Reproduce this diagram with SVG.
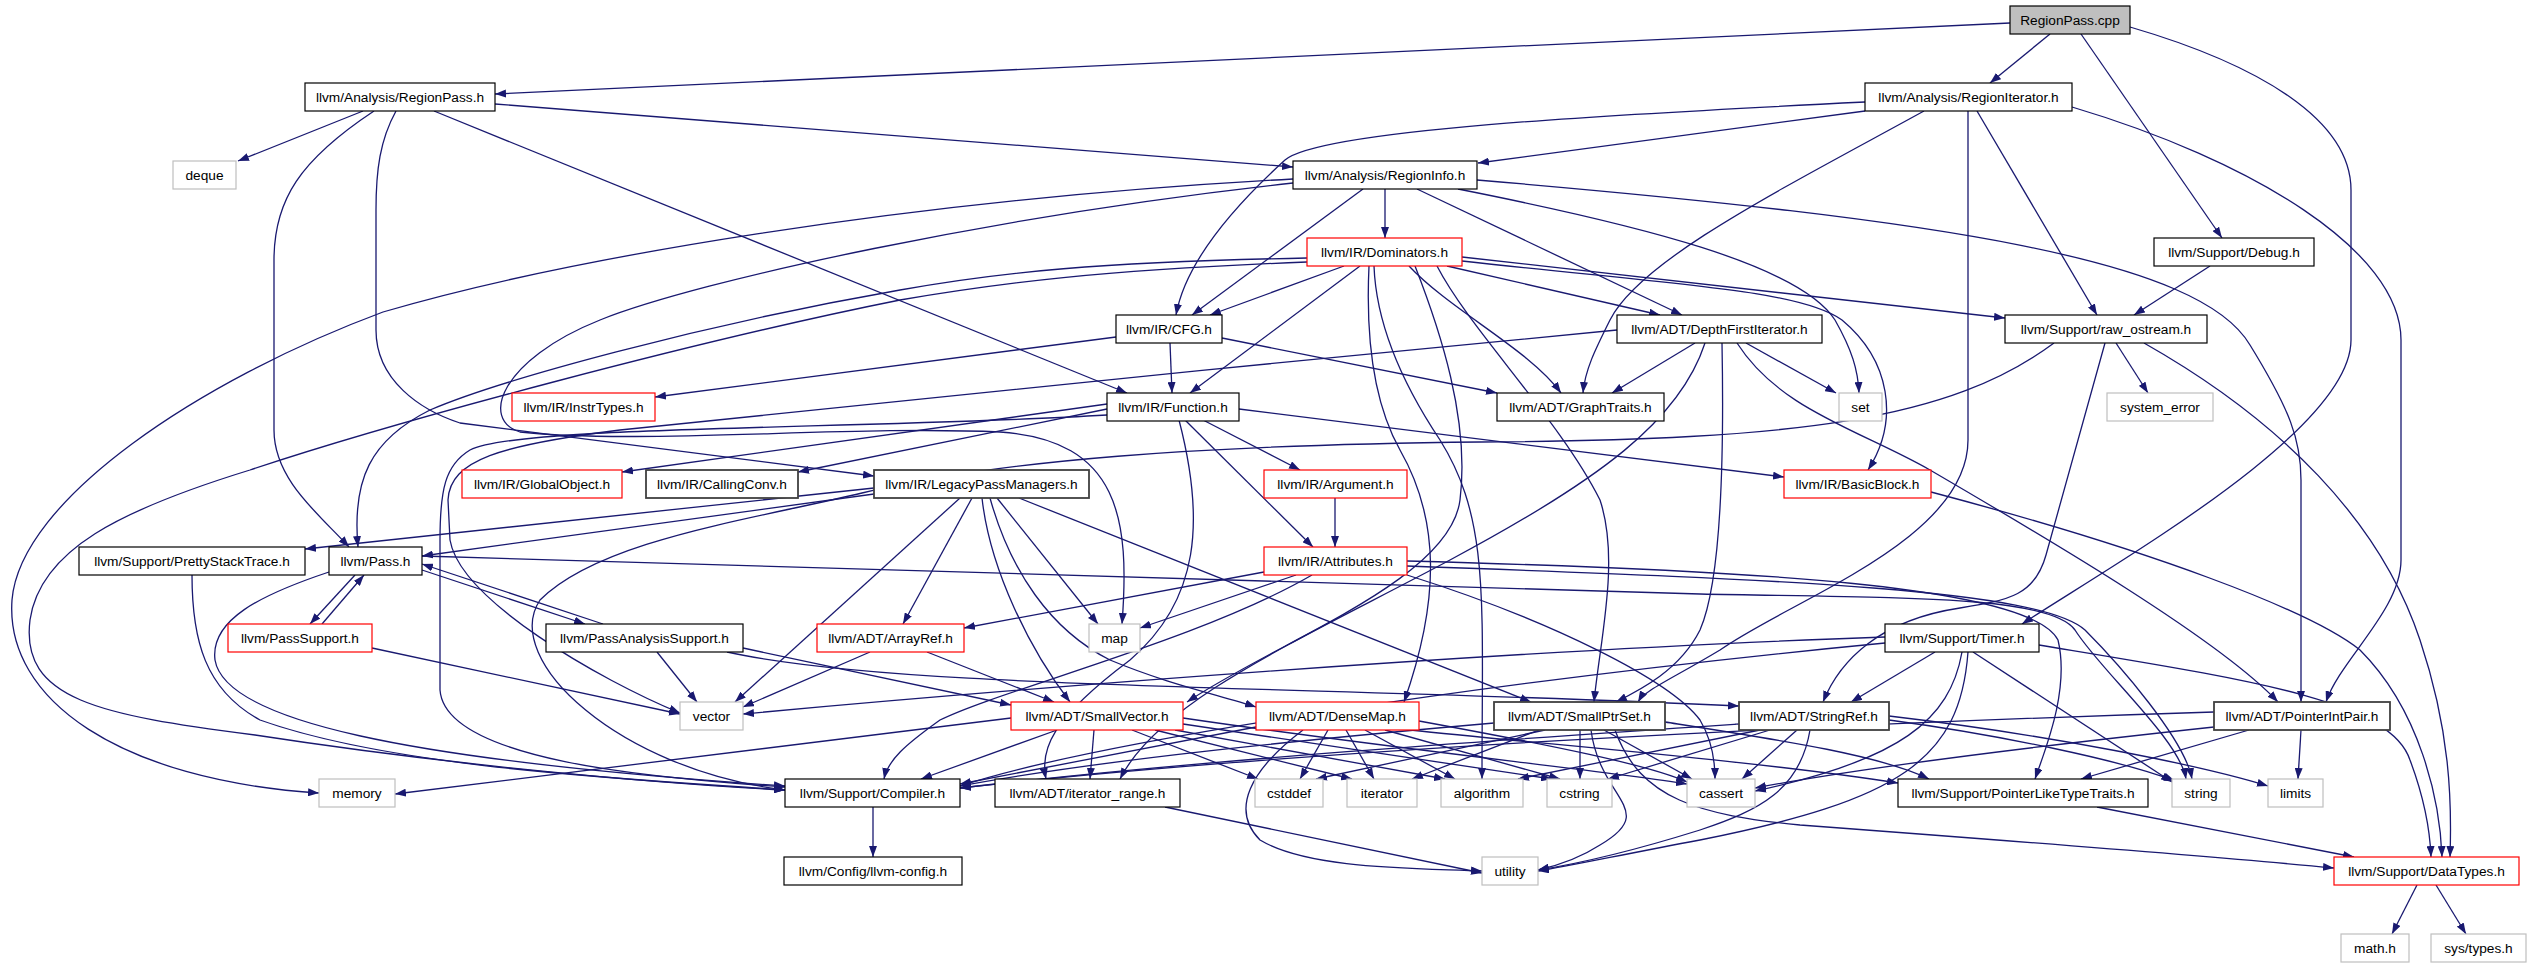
<svg xmlns="http://www.w3.org/2000/svg" width="2534" height="968" viewBox="0 0 2534 968">
<defs>
<style>
.e{fill:none;stroke:#191970;stroke-width:1.3;marker-end:url(#a)}
.n rect{fill:#fff;stroke:#000;stroke-width:1.2}
.g rect{fill:#fff;stroke:#bfbfbf;stroke-width:1.2}
.r rect{fill:#fff;stroke:#ff0000;stroke-width:1.2}
.d rect{fill:#fff;stroke:#404040;stroke-width:1.8}
text{font-family:"Liberation Sans",Arial,sans-serif;font-size:13.7px;fill:#000;text-anchor:middle}
</style>
<marker id="a" markerWidth="11" markerHeight="8" refX="11" refY="4" orient="auto" markerUnits="userSpaceOnUse"><path d="M0,0 L11,4 L0,8 z" fill="#191970"/></marker>
</defs>
<rect width="2534" height="968" fill="#fff"/>
<g id="edges">
<path class="e" d="M2010,23 L495,94"/>
<path class="e" d="M2050,34 L1990,83"/>
<path class="e" d="M2081,34 L2222,238"/>
<path class="e" d="M2130,27 C2260,65 2351,120 2351,190 L2351,340 C2351,430 2120,560 2022,624"/>
<path class="e" d="M363,111 L238,161"/>
<path class="e" d="M374,111 C300,160 274,200 274,260 L274,430 C274,480 320,515 349,547"/>
<path class="e" d="M396,111 C380,140 376,170 376,210 L376,330 C376,380 420,410 460,423 L874,476"/>
<path class="e" d="M434,111 L1127,393"/>
<path class="e" d="M495,104 L1293,167"/>
<path class="e" d="M1865,111 L1478,163"/>
<path class="e" d="M1865,102 C1600,115 1320,130 1285,160 C1230,210 1185,265 1176,315"/>
<path class="e" d="M1924,111 C1780,190 1640,260 1610,320 C1595,350 1585,370 1583,393"/>
<path class="e" d="M1968,111 L1968,440 C1968,540 1790,600 1720,650 C1670,680 1645,690 1638,702"/>
<path class="e" d="M1977,111 L2097,315"/>
<path class="e" d="M2072,107 C2250,160 2401,250 2401,340 L2401,560 C2401,610 2340,660 2326,702"/>
<path class="e" d="M1293,179 C900,200 560,260 383,312 C200,380 20,500 12,600 C5,700 120,780 319,793"/>
<path class="e" d="M1293,183 C1000,215 700,280 600,320 C500,360 480,420 520,432 C640,445 850,425 1000,432 C1120,440 1130,520 1122,624"/>
<path class="e" d="M1363,189 L1192,315"/>
<path class="e" d="M1385,189 L1385,238"/>
<path class="e" d="M1417,189 L1682,315"/>
<path class="e" d="M1458,189 C1640,225 1800,265 1835,320 C1852,350 1858,370 1859,393"/>
<path class="e" d="M1477,180 C1950,220 2200,260 2250,345 C2290,410 2301,440 2301,480 L2301,702"/>
<path class="e" d="M1344,266 L1210,315"/>
<path class="e" d="M1360,266 L1190,393"/>
<path class="e" d="M1307,258 C1100,262 1000,272 900,290 C700,325 500,380 430,410 C370,440 352,480 358,547"/>
<path class="e" d="M1307,262 C1100,270 1000,283 900,300 C700,340 400,420 250,470 C120,510 40,550 30,620 C20,700 100,715 255,735 C450,765 650,783 785,790"/>
<path class="e" d="M1447,266 L1660,315"/>
<path class="e" d="M1409,266 C1450,310 1530,350 1561,393"/>
<path class="e" d="M1462,257 L2005,318"/>
<path class="e" d="M1462,261 C1680,285 1800,290 1842,320 C1890,360 1900,420 1868,470"/>
<path class="e" d="M1415,266 C1440,330 1470,420 1460,500 C1450,580 1280,640 1187,702"/>
<path class="e" d="M1369,266 C1366,330 1372,400 1400,450 C1440,520 1440,600 1404,702"/>
<path class="e" d="M1374,266 C1376,320 1400,380 1440,440 C1490,520 1482,600 1482,779"/>
<path class="e" d="M1437,266 C1470,330 1560,420 1600,500 C1620,560 1600,640 1594,702"/>
<path class="e" d="M1116,337 L655,397"/>
<path class="e" d="M1170,343 L1172,393"/>
<path class="e" d="M1222,338 L1497,393"/>
<path class="e" d="M1695,343 L1612,393"/>
<path class="e" d="M1746,343 L1836,393"/>
<path class="e" d="M1737,343 C1780,410 1860,430 1930,470 C2050,540 2220,640 2278,702"/>
<path class="e" d="M1722,343 C1724,450 1722,580 1700,630 C1680,670 1640,690 1616,702"/>
<path class="e" d="M1705,343 C1680,420 1600,480 1450,560 C1300,640 1160,700 1120,779"/>
<path class="e" d="M1617,330 C1300,360 900,400 620,430 C500,445 450,460 448,500 L450,540 C460,600 600,680 680,713"/>
<path class="e" d="M2116,343 L2148,393"/>
<path class="e" d="M2105,343 L2046,555 C2035,595 2010,600 1960,608 C1880,620 1840,660 1823,702"/>
<path class="e" d="M2054,343 C1950,420 1800,440 1480,442 C1200,445 1000,460 862,493 C750,520 600,540 540,600 C500,660 620,770 785,790"/>
<path class="e" d="M2144,343 C2280,420 2380,520 2420,640 C2450,730 2452,800 2450,857"/>
<path class="e" d="M2210,266 L2134,315"/>
<path class="e" d="M1107,404 L622,472"/>
<path class="e" d="M1107,409 L798,472"/>
<path class="e" d="M1107,415 C850,430 520,425 470,450 C445,465 440,490 440,540 L440,690 C445,760 650,778 785,787"/>
<path class="e" d="M1203,420 L1300,470"/>
<path class="e" d="M1185,420 L1313,547"/>
<path class="e" d="M1179,420 C1205,520 1200,600 1130,660 C1050,720 1040,750 1046,779"/>
<path class="e" d="M1239,409 L1784,477"/>
<path class="e" d="M874,488 L305,549"/>
<path class="e" d="M874,494 L422,556"/>
<path class="e" d="M960,498 L735,702"/>
<path class="e" d="M972,498 L903,624"/>
<path class="e" d="M982,498 C990,570 1030,650 1070,702"/>
<path class="e" d="M990,498 C1010,570 1050,630 1110,660 C1170,685 1220,695 1256,707"/>
<path class="e" d="M997,498 L1098,624"/>
<path class="e" d="M1019,498 L1531,702"/>
<path class="e" d="M329,572 C260,595 210,620 215,660 C225,720 400,760 785,786"/>
<path class="e" d="M422,556 L1700,594 C1900,598 2050,595 2075,630 C2100,670 2180,740 2186,779"/>
<path class="e" d="M355,575 L310,624"/>
<path class="e" d="M322,624 L364,575"/>
<path class="e" d="M422,570 L585,624"/>
<path class="e" d="M603,624 L422,564"/>
<path class="e" d="M372,648 L680,714"/>
<path class="e" d="M657,652 L697,702"/>
<path class="e" d="M743,648 L1011,705"/>
<path class="e" d="M727,652 C900,690 1300,685 1739,706"/>
<path class="e" d="M192,575 C192,640 205,690 260,720 C400,770 650,780 785,790"/>
<path class="e" d="M1335,498 L1335,547"/>
<path class="e" d="M1264,572 L964,628"/>
<path class="e" d="M1296,575 L1140,628"/>
<path class="e" d="M1312,575 C1200,640 1000,690 940,720 C905,745 888,760 884,779"/>
<path class="e" d="M1407,575 C1550,620 1670,680 1700,720 C1712,740 1715,760 1715,779"/>
<path class="e" d="M1407,561 C1750,570 2030,585 2058,640 C2070,690 2045,750 2035,779"/>
<path class="e" d="M1407,566 C1800,580 2040,590 2085,630 C2120,665 2185,740 2192,779"/>
<path class="e" d="M870,652 L743,707"/>
<path class="e" d="M927,652 L1054,702"/>
<path class="e" d="M1011,718 L395,794"/>
<path class="e" d="M1057,730 L921,779"/>
<path class="e" d="M1094,730 L1090,779"/>
<path class="e" d="M1132,730 L1258,779"/>
<path class="e" d="M1155,730 L1352,779"/>
<path class="e" d="M1175,730 L1445,779"/>
<path class="e" d="M1183,724 L1552,779"/>
<path class="e" d="M1183,718 C1400,750 1600,770 1687,784"/>
<path class="e" d="M1256,727 L960,784"/>
<path class="e" d="M1303,730 C1250,770 1230,810 1260,840 C1310,870 1420,868 1482,871"/>
<path class="e" d="M1328,730 L1300,779"/>
<path class="e" d="M1346,730 L1374,779"/>
<path class="e" d="M1365,730 L1455,779"/>
<path class="e" d="M1385,730 L1560,779"/>
<path class="e" d="M1419,721 C1550,745 1650,765 1687,782"/>
<path class="e" d="M1410,730 C1550,745 1750,760 1898,783"/>
<path class="e" d="M1494,723 C1300,740 1100,760 960,786"/>
<path class="e" d="M1545,730 L1316,779"/>
<path class="e" d="M1539,730 L1412,779"/>
<path class="e" d="M1580,730 L1580,779"/>
<path class="e" d="M1604,730 L1692,779"/>
<path class="e" d="M1591,730 C1600,800 1660,810 1600,845 C1580,858 1560,865 1538,870"/>
<path class="e" d="M1615,730 C1640,800 1700,815 1800,825 C2000,840 2200,855 2334,868"/>
<path class="e" d="M1665,722 C1780,740 1880,755 1929,779"/>
<path class="e" d="M1739,724 C1500,740 1200,760 960,788"/>
<path class="e" d="M1760,730 L1518,779"/>
<path class="e" d="M1770,730 L1608,779"/>
<path class="e" d="M1797,730 L1742,779"/>
<path class="e" d="M1810,730 C1800,790 1760,810 1700,830 C1620,855 1570,865 1538,870"/>
<path class="e" d="M1889,720 C2000,735 2120,760 2175,781"/>
<path class="e" d="M1889,716 C2050,735 2200,765 2268,786"/>
<path class="e" d="M2214,712 C1800,725 1300,750 960,788"/>
<path class="e" d="M2214,727 C2000,750 1850,770 1755,788"/>
<path class="e" d="M2249,730 L2081,779"/>
<path class="e" d="M2301,730 L2298,779"/>
<path class="e" d="M2097,807 L2354,857"/>
<path class="e" d="M1935,652 L1851,702"/>
<path class="e" d="M1885,637 C1500,650 1000,690 743,714"/>
<path class="e" d="M1885,643 C1500,680 1100,740 960,786"/>
<path class="e" d="M1962,652 C1950,720 1900,760 1755,791"/>
<path class="e" d="M1968,652 C1960,760 1900,800 1700,840 C1620,855 1570,866 1538,871"/>
<path class="e" d="M1973,652 L2172,782"/>
<path class="e" d="M2039,645 C2250,680 2390,700 2410,760 C2425,800 2430,830 2431,857"/>
<path class="e" d="M1931,492 C2150,550 2310,610 2360,650 C2420,710 2440,800 2442,857"/>
<path class="e" d="M2417,885 L2392,934"/>
<path class="e" d="M2436,885 L2466,934"/>
<path class="e" d="M873,807 L873,857"/>
<path class="e" d="M1165,807 L1482,873"/>
</g>
<g id="cpp" class="n"><rect x="2010" y="6" width="120" height="28" style="fill:#bfbfbf"/><text x="2070" y="25">RegionPass.cpp</text></g>
<g id="rp" class="n"><rect x="305" y="83" width="190" height="28"/><text x="400" y="102">llvm/Analysis/RegionPass.h</text></g>
<g id="ri" class="n"><rect x="1865" y="83" width="207" height="28"/><text x="1968.5" y="102">llvm/Analysis/RegionIterator.h</text></g>
<g id="deque" class="g"><rect x="173" y="161" width="63" height="28"/><text x="204.5" y="180">deque</text></g>
<g id="rinfo" class="n"><rect x="1293" y="161" width="184" height="28"/><text x="1385" y="180">llvm/Analysis/RegionInfo.h</text></g>
<g id="dom" class="r"><rect x="1307" y="238" width="155" height="28"/><text x="1384.5" y="257">llvm/IR/Dominators.h</text></g>
<g id="debug" class="n"><rect x="2154" y="238" width="160" height="28"/><text x="2234" y="257">llvm/Support/Debug.h</text></g>
<g id="cfg" class="n"><rect x="1116" y="315" width="106" height="28"/><text x="1169" y="334">llvm/IR/CFG.h</text></g>
<g id="dfi" class="n"><rect x="1617" y="315" width="205" height="28"/><text x="1719.5" y="334">llvm/ADT/DepthFirstIterator.h</text></g>
<g id="raw" class="n"><rect x="2005" y="315" width="202" height="28"/><text x="2106" y="334">llvm/Support/raw_ostream.h</text></g>
<g id="instr" class="r"><rect x="512" y="393" width="143" height="28"/><text x="583.5" y="412">llvm/IR/InstrTypes.h</text></g>
<g id="func" class="n"><rect x="1107" y="393" width="132" height="28"/><text x="1173" y="412">llvm/IR/Function.h</text></g>
<g id="gt" class="n"><rect x="1497" y="393" width="167" height="28"/><text x="1580.5" y="412">llvm/ADT/GraphTraits.h</text></g>
<g id="set" class="g"><rect x="1839" y="393" width="43" height="28"/><text x="1860.5" y="412">set</text></g>
<g id="syserr" class="g"><rect x="2107" y="393" width="106" height="28"/><text x="2160" y="412">system_error</text></g>
<g id="gobj" class="r"><rect x="462" y="470" width="160" height="28"/><text x="542" y="489">llvm/IR/GlobalObject.h</text></g>
<g id="cc" class="d"><rect x="646" y="470" width="152" height="28"/><text x="722" y="489">llvm/IR/CallingConv.h</text></g>
<g id="lpm" class="d"><rect x="874" y="470" width="215" height="28"/><text x="981.5" y="489">llvm/IR/LegacyPassManagers.h</text></g>
<g id="arg" class="r"><rect x="1264" y="470" width="143" height="28"/><text x="1335.5" y="489">llvm/IR/Argument.h</text></g>
<g id="bb" class="r"><rect x="1784" y="470" width="147" height="28"/><text x="1857.5" y="489">llvm/IR/BasicBlock.h</text></g>
<g id="pst" class="n"><rect x="79" y="547" width="226" height="28"/><text x="192" y="566">llvm/Support/PrettyStackTrace.h</text></g>
<g id="pass" class="n"><rect x="329" y="547" width="93" height="28"/><text x="375.5" y="566">llvm/Pass.h</text></g>
<g id="attr" class="r"><rect x="1264" y="547" width="143" height="28"/><text x="1335.5" y="566">llvm/IR/Attributes.h</text></g>
<g id="ps" class="r"><rect x="228" y="624" width="144" height="28"/><text x="300" y="643">llvm/PassSupport.h</text></g>
<g id="pas" class="n"><rect x="546" y="624" width="197" height="28"/><text x="644.5" y="643">llvm/PassAnalysisSupport.h</text></g>
<g id="aref" class="r"><rect x="817" y="624" width="147" height="28"/><text x="890.5" y="643">llvm/ADT/ArrayRef.h</text></g>
<g id="map" class="g"><rect x="1089" y="624" width="51" height="28"/><text x="1114.5" y="643">map</text></g>
<g id="timer" class="n"><rect x="1885" y="624" width="154" height="28"/><text x="1962" y="643">llvm/Support/Timer.h</text></g>
<g id="vector" class="g"><rect x="680" y="702" width="63" height="28"/><text x="711.5" y="721">vector</text></g>
<g id="sv" class="r"><rect x="1011" y="702" width="172" height="28"/><text x="1097" y="721">llvm/ADT/SmallVector.h</text></g>
<g id="dm" class="r"><rect x="1256" y="702" width="163" height="28"/><text x="1337.5" y="721">llvm/ADT/DenseMap.h</text></g>
<g id="sps" class="d"><rect x="1494" y="702" width="171" height="28"/><text x="1579.5" y="721">llvm/ADT/SmallPtrSet.h</text></g>
<g id="sr" class="d"><rect x="1739" y="702" width="150" height="28"/><text x="1814" y="721">llvm/ADT/StringRef.h</text></g>
<g id="pip" class="d"><rect x="2214" y="702" width="176" height="28"/><text x="2302" y="721">llvm/ADT/PointerIntPair.h</text></g>
<g id="memory" class="g"><rect x="319" y="779" width="76" height="28"/><text x="357" y="798">memory</text></g>
<g id="comp" class="n"><rect x="785" y="779" width="175" height="28"/><text x="872.5" y="798">llvm/Support/Compiler.h</text></g>
<g id="ir" class="n"><rect x="995" y="779" width="185" height="28"/><text x="1087.5" y="798">llvm/ADT/iterator_range.h</text></g>
<g id="cstddef" class="g"><rect x="1255" y="779" width="68" height="28"/><text x="1289" y="798">cstddef</text></g>
<g id="iterator" class="g"><rect x="1347" y="779" width="70" height="28"/><text x="1382" y="798">iterator</text></g>
<g id="algorithm" class="g"><rect x="1441" y="779" width="82" height="28"/><text x="1482" y="798">algorithm</text></g>
<g id="cstring" class="g"><rect x="1547" y="779" width="65" height="28"/><text x="1579.5" y="798">cstring</text></g>
<g id="cassert" class="g"><rect x="1687" y="779" width="68" height="28"/><text x="1721" y="798">cassert</text></g>
<g id="pltt" class="n"><rect x="1898" y="779" width="250" height="28"/><text x="2023" y="798">llvm/Support/PointerLikeTypeTraits.h</text></g>
<g id="string" class="g"><rect x="2172" y="779" width="58" height="28"/><text x="2201" y="798">string</text></g>
<g id="limits" class="g"><rect x="2268" y="779" width="55" height="28"/><text x="2295.5" y="798">limits</text></g>
<g id="cfgh" class="n"><rect x="784" y="857" width="178" height="28"/><text x="873" y="876">llvm/Config/llvm-config.h</text></g>
<g id="utility" class="g"><rect x="1482" y="857" width="56" height="28"/><text x="1510" y="876">utility</text></g>
<g id="dt" class="r"><rect x="2334" y="857" width="185" height="28"/><text x="2426.5" y="876">llvm/Support/DataTypes.h</text></g>
<g id="math" class="g"><rect x="2341" y="934" width="68" height="28"/><text x="2375" y="953">math.h</text></g>
<g id="systypes" class="g"><rect x="2431" y="934" width="95" height="28"/><text x="2478.5" y="953">sys/types.h</text></g>
</svg>
